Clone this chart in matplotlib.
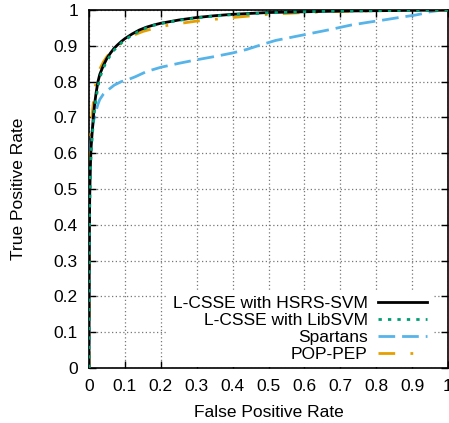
import matplotlib
matplotlib.use("Agg")
import matplotlib.pyplot as plt
import numpy as np

plt.rcParams['font.family'] = ['Liberation Sans', 'DejaVu Sans']

# ROC points (FPR, TPR)
hsrs_fpr = [0, 0.0005, 0.001, 0.002, 0.004, 0.006, 0.009, 0.012, 0.016, 0.02, 0.025, 0.03, 0.04, 0.05,
            0.06, 0.07, 0.08, 0.09, 0.1, 0.12, 0.14, 0.16, 0.18, 0.2, 0.25, 0.3, 0.35, 0.4, 0.5, 0.6,
            0.7, 0.8, 0.9, 1.0]
hsrs_tpr = [0, 0.2, 0.35, 0.48, 0.57, 0.62, 0.66, 0.70, 0.74, 0.77, 0.80, 0.82, 0.845, 0.865,
            0.88, 0.893, 0.903, 0.912, 0.92, 0.933, 0.944, 0.952, 0.958, 0.963, 0.972, 0.979, 0.984, 0.988, 0.993, 0.995,
            0.997, 0.998, 0.999, 1.0]

lib_fpr = [0, 0.0005, 0.001, 0.002, 0.004, 0.006, 0.009, 0.012, 0.016, 0.02, 0.025, 0.03, 0.04, 0.05,
           0.06, 0.07, 0.08, 0.09, 0.1, 0.12, 0.14, 0.16, 0.18, 0.2, 0.25, 0.3, 0.35, 0.4, 0.5, 0.6,
           0.7, 0.8, 0.9, 1.0]
lib_tpr = [0, 0.18, 0.32, 0.45, 0.55, 0.60, 0.645, 0.685, 0.725, 0.755, 0.785, 0.81, 0.838, 0.858,
           0.874, 0.888, 0.898, 0.908, 0.916, 0.93, 0.941, 0.95, 0.957, 0.962, 0.971, 0.978, 0.983, 0.987, 0.992, 0.995,
           0.997, 0.998, 0.999, 1.0]

spartans_fpr = [0, 0.0005, 0.001, 0.002, 0.003, 0.005, 0.007, 0.009, 0.012, 0.015, 0.02, 0.025, 0.03, 0.04,
                0.05, 0.06, 0.07, 0.08, 0.09, 0.11, 0.13, 0.16, 0.2, 0.25, 0.3, 0.35, 0.4, 0.44, 0.48, 0.52,
                0.57, 0.62, 0.67, 0.73, 0.78, 0.82, 0.87, 0.91, 0.93, 0.95, 0.97, 1.0]
spartans_tpr = [0, 0.2, 0.35, 0.5, 0.57, 0.62, 0.645, 0.665, 0.685, 0.70, 0.72, 0.737, 0.75, 0.765,
                0.775, 0.782, 0.79, 0.795, 0.80, 0.806, 0.814, 0.828, 0.84, 0.851, 0.861, 0.87, 0.88, 0.89, 0.903, 0.915,
                0.925, 0.935, 0.945, 0.958, 0.966, 0.972, 0.98, 0.986, 0.99, 0.995, 0.998, 1.0]

pop_fpr = [0, 0.0005, 0.001, 0.002, 0.004, 0.006, 0.01, 0.015, 0.02, 0.03, 0.04, 0.05, 0.06, 0.08,
           0.1, 0.12, 0.15, 0.2, 0.25, 0.3, 0.4, 0.5, 0.6, 0.7, 0.8, 0.9, 1.0]
pop_tpr = [0, 0.25, 0.4, 0.55, 0.63, 0.67, 0.72, 0.77, 0.80, 0.835, 0.855, 0.87, 0.882, 0.90,
           0.915, 0.928, 0.94, 0.954, 0.962, 0.969, 0.979, 0.988, 0.993, 0.996, 0.998, 0.999, 1.0]

ticks = np.round(np.arange(0, 1.01, 0.1), 1)
tick_labels = ['0', '0.1', '0.2', '0.3', '0.4', '0.5', '0.6', '0.7', '0.8', '0.9', '1']

fs = 12.5

fig = plt.figure(figsize=(4.49, 4.23), dpi=100)
ax = fig.add_axes([89 / 449, 55 / 423, 359 / 449, 358 / 423])

ax.plot(hsrs_fpr, hsrs_tpr, color='black', lw=2, label='L-CSSE with HSRS-SVM', zorder=5)
ax.plot(lib_fpr, lib_tpr, color='#009E73', lw=2, ls=(0, (1.2, 2.2)), label='L-CSSE with LibSVM', zorder=6)
ax.plot(spartans_fpr, spartans_tpr, color='#56B4E9', lw=2, ls=(0, (6, 2.5)), label='Spartans', zorder=4)
ax.plot(pop_fpr, pop_tpr, color='#E69F00', lw=2, ls=(0, (6, 5.5, 1, 5.5)), label='POP-PEP', zorder=4)

ax.set_xlim(0, 1)
ax.set_ylim(0, 1)
ax.set_xticks(ticks)
ax.set_xticklabels(tick_labels)
ax.set_yticks(ticks)
ax.set_yticklabels(tick_labels)
ax.tick_params(direction='in', length=5, width=1, top=True, right=True, labelsize=fs, pad=8)
ax.grid(True, color='#777777', ls=(0, (1, 2)), lw=0.9)
for s in ax.spines.values():
    s.set_linewidth(1.2)

ax.set_xlabel('False Positive Rate', fontsize=fs, labelpad=8)
ax.set_ylabel('True Positive Rate', fontsize=fs, labelpad=20)

leg = ax.legend(loc='lower right', bbox_to_anchor=(0.955, 0.003), markerfirst=False, fontsize=fs,
                frameon=True, fancybox=False, handlelength=2.8, handletextpad=0.6, labelspacing=0.1,
                borderaxespad=0.0, borderpad=0.3)
leg.get_frame().set_edgecolor('none')
leg.get_frame().set_facecolor('white')
leg.get_frame().set_alpha(1)
leg.set_zorder(10)
for t in leg.get_texts():
    t.set_ha('right')

fig.savefig('out.png', dpi=100)
